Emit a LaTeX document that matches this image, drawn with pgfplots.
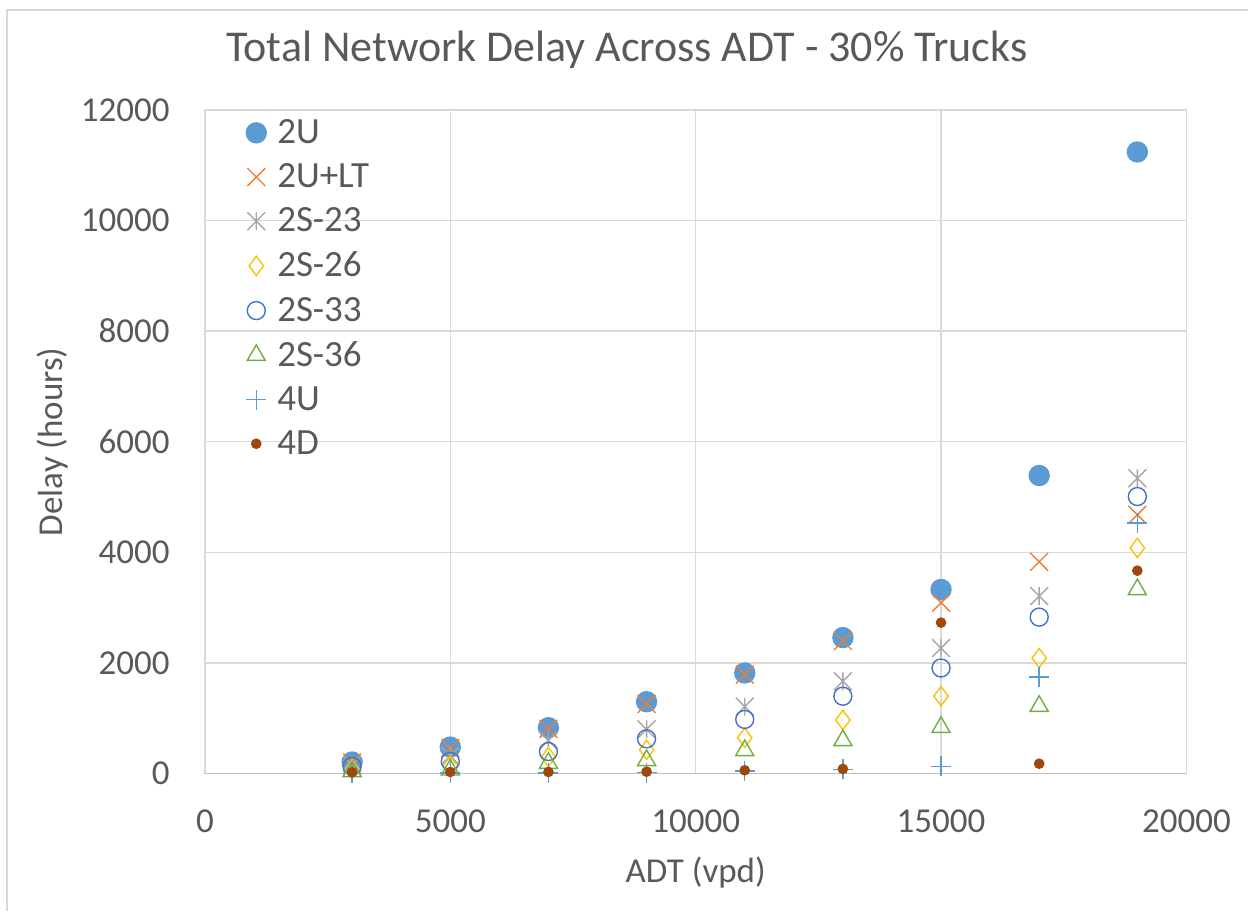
\documentclass[border=0pt]{standalone}
\usepackage{fontspec}
\setmainfont{Carlito}
\usepackage{pgfplots}
\pgfplotsset{compat=1.18}

\definecolor{txt}{HTML}{595959}
\definecolor{gridc}{HTML}{D9D9D9}
\definecolor{axc}{HTML}{BFBFBF}
\definecolor{cA}{HTML}{5B9BD5}
\definecolor{cB}{HTML}{ED7D31}
\definecolor{cC}{HTML}{A5A5A5}
\definecolor{cD}{HTML}{FFC000}
\definecolor{cE}{HTML}{4472C4}
\definecolor{cF}{HTML}{70AD47}
\definecolor{cG}{HTML}{5B9BD5}
\definecolor{cH}{HTML}{9E480E}

% Excel-style star: an x with a vertical stroke
\pgfdeclareplotmark{xstar}{%
  \pgfpathmoveto{\pgfqpoint{0pt}{.7071\pgfplotmarksize}}%
  \pgfpathlineto{\pgfqpoint{0pt}{-.7071\pgfplotmarksize}}%
  \pgfpathmoveto{\pgfqpoint{-.7071\pgfplotmarksize}{-.7071\pgfplotmarksize}}%
  \pgfpathlineto{\pgfqpoint{.7071\pgfplotmarksize}{.7071\pgfplotmarksize}}%
  \pgfpathmoveto{\pgfqpoint{-.7071\pgfplotmarksize}{.7071\pgfplotmarksize}}%
  \pgfpathlineto{\pgfqpoint{.7071\pgfplotmarksize}{-.7071\pgfplotmarksize}}%
  \pgfusepathqstroke}

\begin{document}
\begin{tikzpicture}
% page size and outer chart frame
\path (-102.5pt,-68.5pt) rectangle (522pt,387pt);
\draw[gridc, line width=0.6pt] (-99pt,-68.5pt) -- (-99pt,382pt) -- (522pt,382pt);

\begin{axis}[
    scale only axis,
    width=491pt, height=332pt,
    xmin=0, xmax=20000, ymin=0, ymax=12000,
    xtick={0,5000,...,20000},
    ytick={0,2000,...,12000},
    scaled ticks=false,
    /pgf/number format/.cd, 1000 sep={}, assume math mode=true,
    /pgfplots/.cd,
    major tick length=0pt,
    grid=major,
    grid style={gridc, line width=0.7pt},
    axis line style={gridc, line width=0.7pt},
    tick label style={font=\fontsize{17.5}{20}\selectfont, text=txt, inner sep=0pt},
    yticklabel style={anchor=east, xshift=-17.5pt},
    xticklabel style={anchor=north, yshift=-18pt},
    label style={font=\fontsize{17.5}{20}\selectfont, text=txt},
    xlabel={ADT (vpd)},
    ylabel={Delay (hours)},
    xlabel style={at={(axis description cs:0.5,-0.1642)}, anchor=base},
    ylabel style={at={(axis description cs:-0.1446,0.5)}, anchor=base},
    legend cell align=left,
    legend image code/.code={\draw[#1] plot coordinates {(0pt,0pt)};},
    legend style={draw=none, fill=none, at={(axis description cs:0.0,1.0)},
        anchor=north west, xshift=17.5pt, yshift=-0.5pt,
        font=\fontsize{18.5}{21}\selectfont, text=txt,
        row sep=4.6pt, column sep=3.5pt,
        nodes={inner sep=2pt}},
    every axis plot/.append style={only marks, line width=0.7pt},
]
\draw[axc, line width=0.8pt] (rel axis cs:0,0) -- (rel axis cs:1,0);

\addplot[cA, mark=*, mark size=5pt, mark options={fill=cA, draw=cA}] coordinates {
(3000,210) (5000,480) (7000,830) (9000,1300) (11000,1820) (13000,2460) (15000,3330) (17000,5390) (19000,11240)};
\addplot[cB, mark=x, mark size=6.3pt] coordinates {
(3000,200) (5000,460) (7000,810) (9000,1260) (11000,1790) (13000,2400) (15000,3090) (17000,3830) (19000,4680)};
\addplot[cC, mark=xstar, mark size=6.3pt] coordinates {
(3000,150) (5000,320) (7000,600) (9000,800) (11000,1210) (13000,1670) (15000,2270) (17000,3210) (19000,5340)};
\addplot[cD, mark=diamond, mark size=4.8pt] coordinates {
(3000,80) (5000,140) (7000,300) (9000,430) (11000,650) (13000,970) (15000,1400) (17000,2090) (19000,4080)};
\addplot[cE, mark=o, mark size=4.5pt] coordinates {
(3000,130) (5000,220) (7000,400) (9000,630) (11000,980) (13000,1400) (15000,1910) (17000,2830) (19000,5010)};
\addplot[cF, mark=triangle, mark size=5.2pt] coordinates {
(3000,40) (5000,70) (7000,190) (9000,240) (11000,420) (13000,600) (15000,840) (17000,1220) (19000,3330)};
\addplot[cG, mark=+, mark size=5pt] coordinates {
(3000,5) (5000,10) (7000,15) (9000,20) (11000,50) (13000,80) (15000,130) (17000,1750) (19000,4530)};
\addplot[cH, mark=*, mark size=2.3pt, mark options={fill=cH, draw=cH}] coordinates {
(3000,25) (5000,30) (7000,30) (9000,35) (11000,60) (13000,85) (15000,2730) (17000,180) (19000,3670)};

\legend{2U, 2U+LT, 2S-23, 2S-26, 2S-33, 2S-36, 4U, 4D}
\end{axis}

\node[text=txt, font=\fontsize{22}{26}\selectfont] at (211pt,362pt) {Total Network Delay Across ADT - 30\% Trucks};
\end{tikzpicture}
\end{document}
